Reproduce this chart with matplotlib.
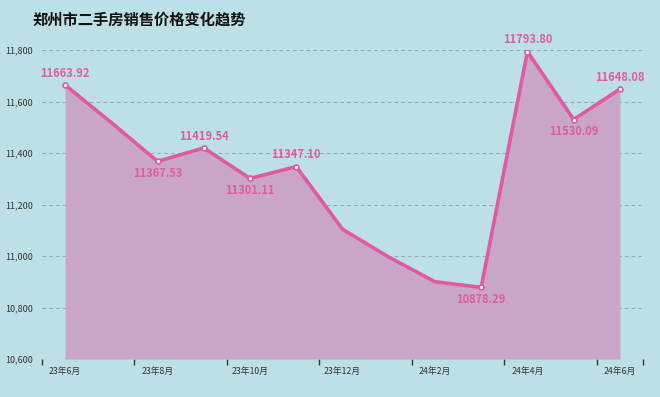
import matplotlib
matplotlib.use("Agg")
import matplotlib.pyplot as plt
from matplotlib.ticker import FixedLocator, FuncFormatter

plt.rcParams['font.family'] = ['Noto Sans CJK SC', 'DejaVu Sans']

months = ["23年6月", "23年7月", "23年8月", "23年9月", "23年10月", "23年11月", "23年12月",
          "24年1月", "24年2月", "24年3月", "24年4月", "24年5月", "24年6月"]
prices = [11663.92, 11518.0, 11367.53, 11419.54, 11301.11, 11347.10, 11104.0,
          10996.0, 10900.0, 10878.29, 11793.80, 11530.09, 11648.08]
labeled = [True, False, True, True, True, True, False, False, False, True, True, True, True]
label_above = [True, False, False, True, False, True, False, False, False, False, True, False, True]
y_ticks = [10600, 10800, 11000, 11200, 11400, 11600, 11800]
title = "郑州市二手房销售价格变化趋势"

bg = "#bce0e6"
line_c = "#e05aa2"
fill_c = "#c9a6c9"

fig = plt.figure(figsize=(6.6, 3.97), dpi=100, facecolor=bg)
ax = fig.add_axes([42/660, 1-359/397, (643-42)/660, (359-50)/397])
ax.set_facecolor(bg)

x = list(range(len(months)))
ax.fill_between(x, prices, y_ticks[0], color=fill_c, linewidth=0, zorder=1)
ax.plot(x, prices, color=line_c, linewidth=2.6, zorder=3, solid_joinstyle='round')
mx = [i for i in x if labeled[i]]
my = [prices[i] for i in x if labeled[i]]
ax.plot(mx, my, linestyle='none', marker='o', markersize=3.6, markerfacecolor='white',
        markeredgecolor=line_c, markeredgewidth=1.2, zorder=4)

for i in x:
    if labeled[i]:
        off = 8.5 if label_above[i] else -8.5
        ax.annotate(f"{prices[i]:.2f}", (i, prices[i]), xytext=(0, off), textcoords='offset points',
                    ha='center', va='center',
                    fontsize=8, fontweight='bold', color=line_c, zorder=5)

ax.set_xlim(-0.5, len(months) - 0.5)
ax.set_ylim(y_ticks[0], y_ticks[-1])
ax.set_yticks(y_ticks)
ax.yaxis.set_major_formatter(FuncFormatter(lambda v, p: f"{int(v):,}"))
ax.set_xticks(x[::2])
ax.set_xticklabels(months[::2])
ax.xaxis.set_minor_locator(FixedLocator([i + 0.5 for i in x[1::2]] + [-0.5, len(months) - 0.5]))
ax.tick_params(axis='x', which='major', length=0, pad=6, labelsize=6.3, colors='#333333')
ax.tick_params(axis='x', which='minor', length=4, width=1, color='#333333', direction='out')
ax.tick_params(axis='y', length=0, pad=6.5, labelsize=6.5, colors='#333333')

ax.grid(axis='y', color='#93aab0', linestyle=(0, (3.5, 3)), linewidth=0.75, zorder=0)
ax.set_axisbelow(True)
for s in ax.spines.values():
    s.set_visible(False)

fig.text(33/660, 1-20/397, title, fontsize=11, fontweight='bold', color='#111111', va='center', ha='left')

fig.savefig("out.png", dpi=100, facecolor=bg)
